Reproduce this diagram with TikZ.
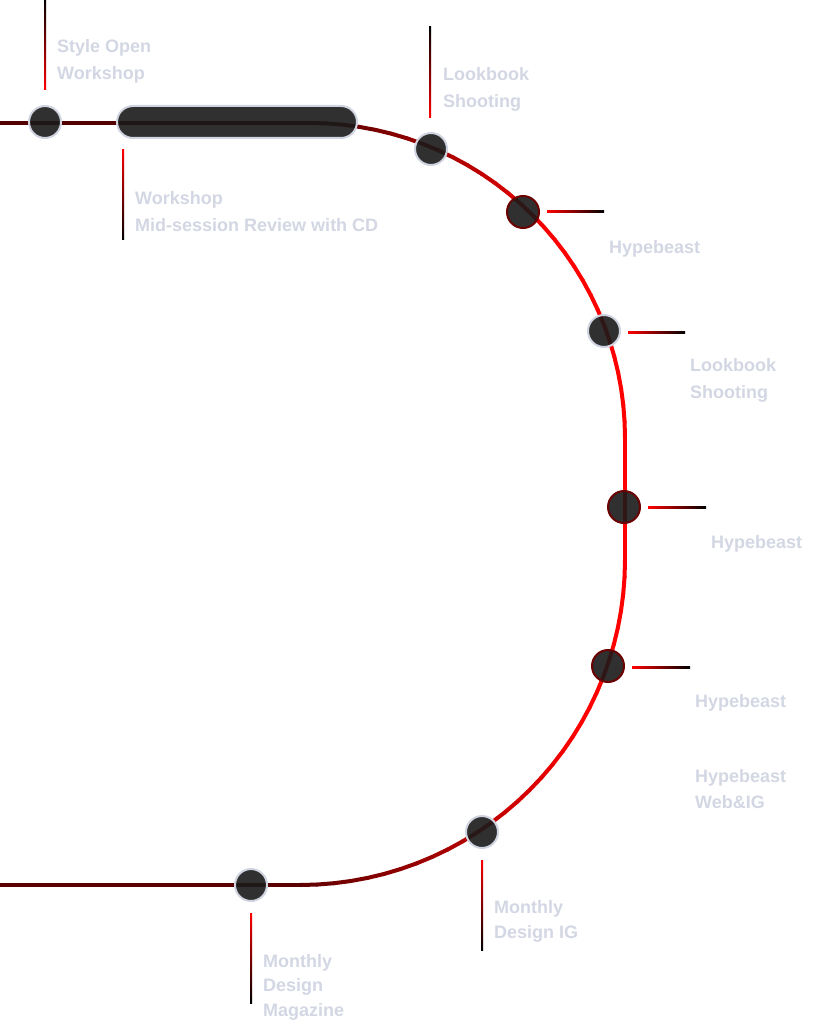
\documentclass[tikz,border=0pt]{standalone}
\usepackage{fontspec}
\setmainfont{Liberation Sans}
\definecolor{lblc}{HTML}{D3D7E3}
\definecolor{rimc}{HTML}{D0D4E0}
\definecolor{rimr}{HTML}{6A0000}
\definecolor{bodyc}{HTML}{1A1A1A}
\begin{document}
\begin{tikzpicture}[x=1pt,y=-1pt,
  trk/.style={line width=4pt,line cap=round},
  stnbase/.style={inner sep=0,line width=2pt,draw=rimc,fill=bodyc,fill opacity=0.9,draw opacity=1},
  stn/.style={stnbase,circle,minimum size=32pt},
  stnR/.style={stn,draw=rimr},
  capsule/.style={stnbase,rectangle,rounded corners=16pt,minimum width=240pt,minimum height=32pt},
  lbl/.style={anchor=base west,inner sep=0,text=lblc,font=\bfseries\fontsize{18}{22}\selectfont}]
\useasboundingbox (0,0) rectangle (819,1024);
% track: top straight
\draw[trk,red!33!black] (0,123) -- (310,123);
% top arc, centre (310,438), r=315
\foreach \a in {-90,-87,...,-3}{
  \pgfmathsetmacro\t{min(100,33+(\a+90)*67/50)}
  \draw[trk,red!\t!black] ({310+315*cos(\a)},{438+315*sin(\a)}) -- ({310+315*cos(\a+3)},{438+315*sin(\a+3)});
}
% vertical
\draw[trk,red] (625,438) -- (625,560);
% bottom arc, centre (300,560), r=325
\foreach \a in {0,3,...,87}{
  \pgfmathsetmacro\t{max(36,min(100,100-(\a-30)*64/60))}
  \draw[trk,red!\t!black] ({300+325*cos(\a)},{560+325*sin(\a)}) -- ({300+325*cos(\a+3)},{560+325*sin(\a+3)});
}
\draw[trk,red!35!black] (0,885) -- (300,885);
% stations
\node[stn] (s1) at (45,122) {};
\node[capsule] (s2) at (237,122) {};
\node[stn] (s3) at (431,149) {};
\node[stnR] (s4) at (523,212) {};
\node[stn] (s5) at (604,331) {};
\node[stnR] (s6) at (624,507) {};
\node[stnR] (s7) at (608,666) {};
\node[stn] (s8) at (482,832) {};
\node[stn] (s9) at (251,885) {};
% ticks
\shade[top color=black,bottom color=red] (44,0) rectangle (46,90);
\shade[top color=red,bottom color=black] (122,150) rectangle (124,239);
\shade[top color=black,bottom color=red] (429,27) rectangle (431,118);
\shade[left color=red,right color=black] (547,211) rectangle (604,213);
\shade[left color=red,right color=black] (628,331) rectangle (685,333);
\shade[left color=red,right color=black] (648,506) rectangle (706,508);
\shade[left color=red,right color=black] (632,666) rectangle (690,668);
\shade[top color=red,bottom color=black] (481,860) rectangle (483,950);
\shade[top color=red,bottom color=black] (250,913) rectangle (252,1003);
% labels
\node[lbl] (l1a) at (57,53) {Style Open};
\node[lbl] (l1b) at (57,80) {Workshop};
\node[lbl] (l2a) at (135,205) {Workshop};
\node[lbl] (l2b) at (135,232) {Mid-session Review with CD};
\node[lbl] (l3a) at (443,81) {Lookbook};
\node[lbl] (l3b) at (443,108) {Shooting};
\node[lbl] (l4a) at (609,253) {Hypebeast};
\node[lbl] (l5a) at (690,371) {Lookbook};
\node[lbl] (l5b) at (690,398) {Shooting};
\node[lbl] (l6a) at (711,548) {Hypebeast};
\node[lbl] (l7a) at (695,707) {Hypebeast};
\node[lbl] (l7b) at (695,782) {Hypebeast};
\node[lbl] (l7c) at (695,808) {Web\&IG};
\node[lbl] (l8a) at (494,913) {Monthly};
\node[lbl] (l8b) at (494,938) {Design IG};
\node[lbl] (l9a) at (263,967) {Monthly};
\node[lbl] (l9b) at (263,991) {Design};
\node[lbl] (l9c) at (263,1016) {Magazine};
\end{tikzpicture}
\end{document}
